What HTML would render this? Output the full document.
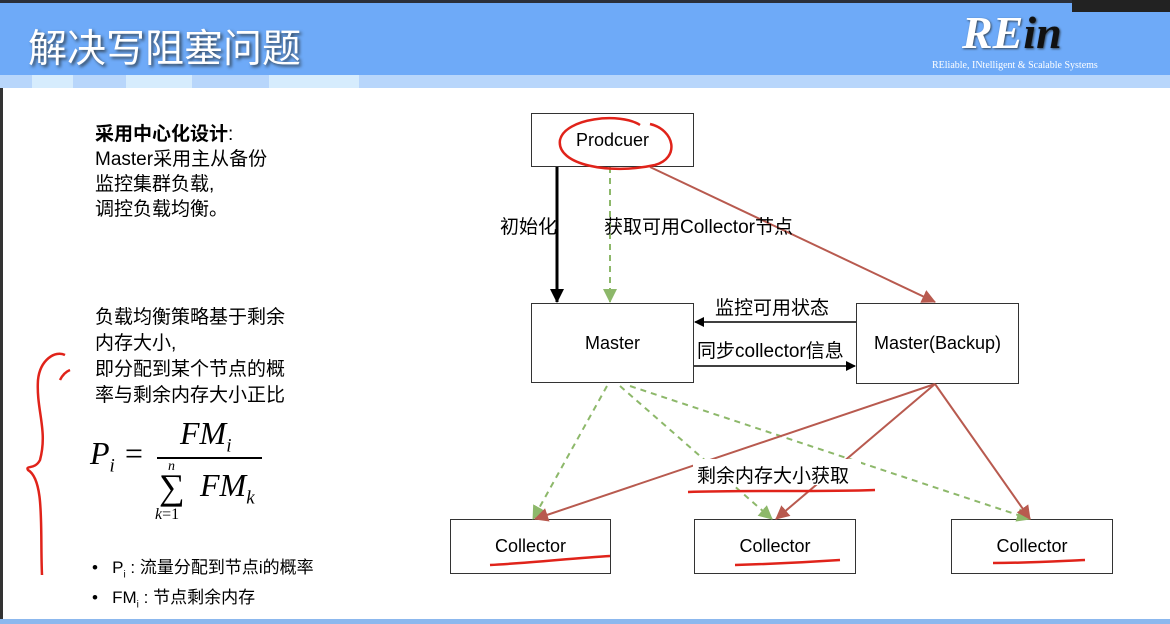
<!DOCTYPE html>
<html><head><meta charset="utf-8"><style>
body{margin:0;width:1170px;height:624px;overflow:hidden;background:#fff;font-family:"Liberation Sans","Noto Sans CJK SC",sans-serif;position:relative}
.hdr{position:absolute;left:0;top:0;width:1170px;height:75px;background:#6eaaf8;border-top:3px solid #2a2f3a;box-sizing:border-box}
.strip{position:absolute;top:75px;height:13px}
.t{position:absolute;color:#000}
.box{position:absolute;border:1px solid #333;background:#fff;font-size:18px;display:flex;align-items:center;justify-content:center;box-sizing:border-box}
</style></head><body>
<div class="hdr"></div>
<div class="strip" style="left:0;width:1170px;background:#b8d6fb"></div>
<div class="strip" style="left:32px;width:41px;background:#d6ecfd"></div>
<div class="strip" style="left:126px;width:66px;background:#d6ecfd"></div>
<div class="strip" style="left:269px;width:90px;background:#d6ecfd"></div>
<div style="position:absolute;left:1072px;top:0;width:98px;height:12px;background:#222"></div>
<div class="t" style="left:28px;top:18px;font-size:39px;color:#fff;text-shadow:2px 2px 3px #345;font-family:'Noto Sans CJK SC',sans-serif">解决写阻塞问题</div>
<div class="t" style="left:962px;top:6px;font-size:46px;font-style:italic;font-weight:bold;color:#fff;font-family:'Liberation Serif',serif;text-shadow:1px 1px 2px #345">RE<span style="color:#111">in</span></div>
<div class="t" style="left:932px;top:60px;font-size:10px;color:#fff;font-family:'Liberation Serif',serif">REliable, INtelligent &amp; Scalable Systems</div>
<div style="position:absolute;left:0;top:88px;width:3px;height:536px;background:#333"></div>
<div style="position:absolute;left:0;top:619px;width:1170px;height:5px;background:#8cb8ee"></div>

<div class="t" style="left:95px;top:122px;font-size:19px;line-height:25px"><b>采用中心化设计</b>:<br>Master采用主从备份<br>监控集群负载,<br>调控负载均衡。</div>
<div class="t" style="left:95px;top:305px;font-size:19px;line-height:26px">负载均衡策略基于剩余<br>内存大小,<br>即分配到某个节点的概<br>率与剩余内存大小正比</div>
<div class="t" style="left:90px;top:435px;font-size:32px;font-style:italic;font-family:'Liberation Serif',serif">P<sub style="font-size:19px">i</sub> =</div>
<div style="position:absolute;left:157px;top:457px;width:105px;height:1.5px;background:#000"></div>
<div class="t" style="left:180px;top:415px;font-size:32px;font-style:italic;font-family:'Liberation Serif',serif">FM<sub style="font-size:19px">i</sub></div>
<div class="t" style="left:168px;top:459px;font-size:14px;font-style:italic;font-family:'Liberation Serif',serif">n</div>
<div class="t" style="left:159px;top:466px;font-size:36px;font-family:'Liberation Serif',serif">∑</div>
<div class="t" style="left:200px;top:467px;font-size:32px;font-style:italic;font-family:'Liberation Serif',serif">FM<sub style="font-size:19px">k</sub></div>
<div class="t" style="left:155px;top:506px;font-size:16px;font-family:'Liberation Serif',serif"><i>k</i>=1</div>
<div class="t" style="left:92px;top:556px;font-size:17px;line-height:23px">•&nbsp;&nbsp;&nbsp;P<sub style="font-size:10px">i</sub> : 流量分配到节点i的概率<br>•&nbsp;&nbsp;&nbsp;FM<sub style="font-size:10px">i</sub> : 节点剩余内存</div>

<div class="box" style="left:531px;top:113px;width:163px;height:54px">Prodcuer</div>
<div class="box" style="left:531px;top:303px;width:163px;height:80px">Master</div>
<div class="box" style="left:856px;top:303px;width:163px;height:81px">Master(Backup)</div>
<div class="box" style="left:450px;top:519px;width:161px;height:55px">Collector</div>
<div class="box" style="left:694px;top:519px;width:162px;height:55px">Collector</div>
<div class="box" style="left:951px;top:519px;width:162px;height:55px">Collector</div>

<svg width="1170" height="624" style="position:absolute;left:0;top:0">
<defs>
<marker id="ak" markerWidth="10" markerHeight="10" refX="9" refY="5" orient="auto" markerUnits="userSpaceOnUse"><path d="M0,0L10,5L0,10z" fill="#000"/></marker>
<marker id="ag" markerWidth="14" markerHeight="14" refX="13" refY="7" orient="auto" markerUnits="userSpaceOnUse"><path d="M0,0L14,7L0,14z" fill="#8db86a"/></marker>
<marker id="ar" markerWidth="14" markerHeight="14" refX="13" refY="7" orient="auto" markerUnits="userSpaceOnUse"><path d="M0,0L14,7L0,14z" fill="#b85a4f"/></marker>
<marker id="ab" markerWidth="14" markerHeight="14" refX="13" refY="7" orient="auto" markerUnits="userSpaceOnUse"><path d="M0,0L14,7L0,14z" fill="#000"/></marker>
</defs>
<line x1="557" y1="167" x2="557" y2="302" stroke="#000" stroke-width="3" marker-end="url(#ab)"/>
<line x1="610" y1="167" x2="610" y2="302" stroke="#8db86a" stroke-width="2" stroke-dasharray="6,5" marker-end="url(#ag)"/>
<line x1="650" y1="167" x2="935" y2="302" stroke="#b85a4f" stroke-width="2" marker-end="url(#ar)"/>
<line x1="856" y1="322" x2="695" y2="322" stroke="#000" stroke-width="1.5" marker-end="url(#ak)"/>
<line x1="694" y1="366" x2="855" y2="366" stroke="#000" stroke-width="1.5" marker-end="url(#ak)"/>
<line x1="607" y1="386" x2="533" y2="519" stroke="#8db86a" stroke-width="2" stroke-dasharray="6,5" marker-end="url(#ag)"/>
<line x1="620" y1="386" x2="772" y2="519" stroke="#8db86a" stroke-width="2" stroke-dasharray="6,5" marker-end="url(#ag)"/>
<line x1="630" y1="386" x2="1030" y2="519" stroke="#8db86a" stroke-width="2" stroke-dasharray="6,5" marker-end="url(#ag)"/>
<line x1="935" y1="384" x2="535" y2="519" stroke="#b85a4f" stroke-width="2" marker-end="url(#ar)"/>
<line x1="935" y1="384" x2="776" y2="519" stroke="#b85a4f" stroke-width="2" marker-end="url(#ar)"/>
<line x1="935" y1="384" x2="1030" y2="519" stroke="#b85a4f" stroke-width="2" marker-end="url(#ar)"/>
<rect x="693" y="459" width="168" height="26" fill="#fff"/>
<g fill="none" stroke="#e0231a" stroke-width="2.5">
<path d="M640,125 C620,112 565,118 560,140 C556,165 610,175 655,165 C680,158 675,130 650,124"/>
<path d="M688,492 C740,490 820,492 875,490"/>
<path d="M490,565 C530,563 575,558 610,556"/>
<path d="M735,565 C770,564 810,562 840,560"/>
<path d="M993,563 C1030,563 1060,561 1085,560"/>
<path d="M65,355 C55,350 40,360 38,380 C36,410 48,430 40,460 C35,470 25,465 28,470 C45,480 40,530 42,575"/>
<path d="M70,370 C65,372 62,376 60,380"/>
</g>
</svg>
<div class="t" style="left:500px;top:212px;font-size:19px">初始化</div>
<div class="t" style="left:604px;top:212px;font-size:19px">获取可用Collector节点</div>
<div class="t" style="left:715px;top:293px;font-size:19px">监控可用状态</div>
<div class="t" style="left:697px;top:336px;font-size:19px">同步collector信息</div>
<div class="t" style="left:697px;top:461px;font-size:19px">剩余内存大小获取</div>
</body></html>
